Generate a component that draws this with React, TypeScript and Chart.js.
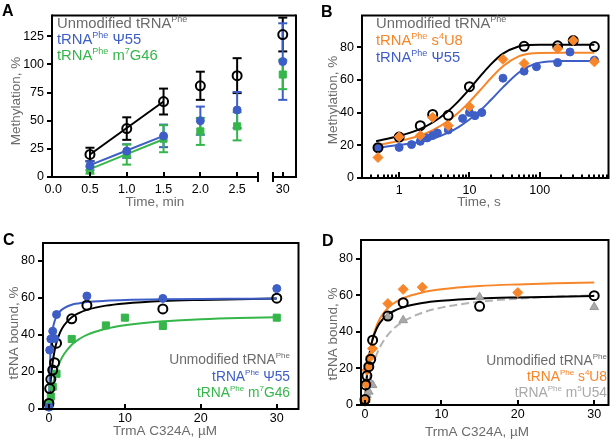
import React, { useEffect, useRef } from "react";
import { Chart, registerables } from "chart.js";

Chart.register(...registerables);

const FONT = '"Liberation Sans", Arial, Helvetica, sans-serif';
const C_BLACK = "#000000";
const C_BLUE = "#3d5ec6";
const C_GREEN = "#35b64b";
const C_ORANGE = "#f7862a";
const C_LGRAY = "#a9a9a9";
const C_TEXT = "#6b6b6b";

// ---------------- Panel A data ----------------
const timeA = [0.5, 1.0, 1.5, 2.0, 2.5, 30];
const unmodA = [20, 43, 67, 81, 90, 126.5];
const unmodAErr = [6, 10, 11.5, 12.5, 15.5, 15];
const psiA = [10, 23, 36.5, 50, 59.5, 102.5];
const psiAErr = [4, 6, 10, 12.5, 16, 34];
const m7gA = [6, 20, 34, 40.5, 45, 91];
const m7gAErr = [3, 9, 12, 12, 12.5, 13];
const fitTimeA = [0.5, 1.5];
const unmodFitA = [20, 67];
const psiFitA = [10.5, 36.5];
const m7gFitA = [7, 33.5];
const xTicksA = [0, 0.5, 1, 1.5, 2, 2.5, 30];
const xTickLabelsA = ["0.0", "0.5", "1.0", "1.5", "2.0", "2.5", "30"];
const yTicksA = [0, 25, 50, 75, 100, 125];

// ---------------- Panel B data ----------------
const timeUnmodB = [0.5, 1, 2, 3, 5, 10, 60, 180, 300, 600];
const unmodB = [18.5, 25, 32, 38.8, 38.3, 55.8, 80.5, 80.8, 84, 80.3];
const timeS4B = [0.5, 1, 2, 3, 5, 10, 30, 60, 180, 300, 600];
const s4B = [12.5, 25.2, 26, 37, 32, 43.6, 72.5, 70, 79, 84, 71];
const timePsiB = [0.5, 1, 1.5, 2, 2.5, 3, 3.5, 5, 8, 10, 12, 15, 30, 60, 90, 180, 270, 600];
const psiB = [18, 18.7, 20.4, 22.4, 24.5, 26, 27.5, 29.3, 36.4, 40, 38.1, 40, 61, 65.3, 68, 70.5, 77, 72];
const fitTimeB = [0.47, 1, 2, 3, 5, 7, 10, 15, 20, 30, 50, 70, 100, 200, 600];
const unmodFitB = [22.5, 25.7, 30.0, 33.9, 41.0, 47.0, 54.3, 63.3, 69.3, 76.0, 80.4, 81.3, 81.5, 81.5, 81.5];
const s4FitB = [20.0, 22.6, 26.0, 29.2, 35.0, 40.0, 46.5, 54.8, 60.8, 68.3, 74.3, 75.9, 76.4, 76.5, 76.5];
const psiFitB = [18.5, 20.1, 22.1, 24.0, 27.7, 31.1, 35.7, 42.1, 47.5, 55.4, 64.3, 68.2, 70.5, 71.5, 71.5];
const xTicksB = [1, 10, 100];
const xMinorB = [0.3, 0.4, 0.5, 0.6, 0.7, 0.8, 0.9, 2, 3, 4, 5, 6, 7, 8, 9, 20, 30, 40, 50, 60, 70, 80, 90, 200, 300, 400, 500, 600, 700, 800, 900];
const yTicksB = [0, 20, 40, 60, 80];

// ---------------- Panels C / D data ----------------
const concUnmod = [0, 0.1, 0.25, 0.5, 0.75, 1, 3, 5, 15, 30];
const unmodBound = [3, 11, 16, 21, 25, 35.5, 48.7, 56, 54, 59.8];
const concPsiC = [0, 0.1, 0.25, 0.5, 0.75, 1, 5, 15, 30];
const psiBound = [1, 31.8, 37.8, 42, 38, 51, 61, 59.7, 65];
const concM7C = [0, 0.1, 0.25, 0.5, 1, 3, 7.5, 10, 15, 30];
const m7Bound = [1.3, 3, 6.7, 12, 19, 37.8, 45.1, 49.3, 44.8, 49.3];
const concS4D = [0, 0.1, 0.25, 0.5, 0.75, 1, 3, 5, 7.5, 20];
const s4Bound = [2, 11.8, 19, 21.8, 26.4, 30.9, 55.5, 63.3, 64.5, 61.5];
const concM5D = [0, 0.1, 0.25, 0.5, 0.75, 1, 3, 5, 15, 30];
const m5Bound = [1.3, 2.7, 5.5, 7.3, 11.8, 10.9, 48.2, 46.4, 59, 53.6];

const fitConc = [0, 0.1, 0.25, 0.5, 0.75, 1, 1.5, 2, 3, 4, 5, 7.5, 10, 15, 20, 25, 30];
const unmodFitCD = [0, 7.6, 16.1, 25.4, 31.6, 35.9, 41.6, 45.2, 49.5, 51.9, 53.5, 55.8, 57.0, 58.3, 58.9, 59.3, 59.6];
const psiFitC = [0, 20, 33.3, 42.9, 47.4, 50, 52.9, 54.5, 56.3, 57.1, 57.7, 58.4, 58.8, 59.2, 59.4, 59.5, 59.6];
const m7FitC = [0, 3.3, 7.4, 13, 17.3, 20.8, 26, 29.7, 34.7, 37.8, 40, 43.3, 45.2, 47.3, 48.4, 49.1, 49.5];
const s4FitD = [0, 6.9, 15, 24.6, 31.4, 36.3, 43.1, 47.6, 53.1, 56.3, 58.5, 61.6, 63.3, 65.1, 66, 66.6, 67];
const m5FitD = [0, 3, 7.1, 12.8, 17.5, 21.3, 27.4, 32, 38.4, 42.7, 45.7, 50.5, 53.3, 56.5, 58.2, 59.3, 60];
const xTicksCD = [0, 10, 20, 30];
const yTicksCD = [0, 20, 40, 60, 80];

// ---------------- helpers ----------------
type Seg = { t: string; sup?: boolean };
const LEG_UNMOD: Seg[] = [{ t: "Unmodified tRNA" }, { t: "Phe", sup: true }];
const LEG_PSI: Seg[] = [{ t: "tRNA" }, { t: "Phe", sup: true }, { t: " Ψ55" }];
const LEG_M7: Seg[] = [{ t: "tRNA" }, { t: "Phe", sup: true }, { t: " m" }, { t: "7", sup: true }, { t: "G46" }];
const LEG_S4: Seg[] = [{ t: "tRNA" }, { t: "Phe", sup: true }, { t: " s" }, { t: "4", sup: true }, { t: "U8" }];
const LEG_M5: Seg[] = [{ t: "tRNA" }, { t: "Phe", sup: true }, { t: " m" }, { t: "5", sup: true }, { t: "U54" }];

const TXT = 13.5;

function rich(ctx: CanvasRenderingContext2D, segs: Seg[], x: number, y: number, color: string, align: "left" | "right", size: number) {
  const base = `${size}px ${FONT}`;
  const sup = `${Math.round(size * 0.6)}px ${FONT}`;
  let w = 0;
  for (const s of segs) {
    ctx.font = s.sup ? sup : base;
    w += ctx.measureText(s.t).width;
  }
  let cx = align === "right" ? x - w : x;
  ctx.fillStyle = color;
  ctx.textAlign = "left";
  ctx.textBaseline = "alphabetic";
  for (const s of segs) {
    ctx.font = s.sup ? sup : base;
    ctx.fillText(s.t, cx, s.sup ? y - size * 0.4 : y);
    cx += ctx.measureText(s.t).width;
  }
}

function letter(ctx: CanvasRenderingContext2D, s: string, x: number, y: number) {
  ctx.font = `bold 16px ${FONT}`;
  ctx.fillStyle = "#000";
  ctx.textAlign = "left";
  ctx.textBaseline = "alphabetic";
  ctx.fillText(s, x, y);
}

function xTitle(ctx: CanvasRenderingContext2D, s: string, x: number, y: number) {
  ctx.font = `${TXT}px ${FONT}`;
  ctx.fillStyle = C_TEXT;
  ctx.textAlign = "center";
  ctx.textBaseline = "alphabetic";
  ctx.fillText(s, x, y);
}

function yTitle(ctx: CanvasRenderingContext2D, s: string, x: number, y: number) {
  ctx.save();
  ctx.translate(x, y);
  ctx.rotate(-Math.PI / 2);
  ctx.font = `${TXT}px ${FONT}`;
  ctx.fillStyle = C_TEXT;
  ctx.textAlign = "center";
  ctx.textBaseline = "alphabetic";
  ctx.fillText(s, 0, 0);
  ctx.restore();
}

function seg(ctx: CanvasRenderingContext2D, x1: number, y1: number, x2: number, y2: number) {
  ctx.beginPath();
  ctx.moveTo(x1, y1);
  ctx.lineTo(x2, y2);
  ctx.stroke();
}

function drawBox(chart: any) {
  const { ctx, chartArea: a } = chart;
  ctx.save();
  ctx.strokeStyle = "#000";
  ctx.lineWidth = 2;
  ctx.strokeRect(a.left, a.top, a.right - a.left, a.bottom - a.top);
  ctx.restore();
}

function drawYTicks(chart: any, ticks: number[], len = 5) {
  const { ctx, chartArea: a, scales } = chart;
  ctx.save();
  ctx.strokeStyle = "#000";
  ctx.lineWidth = 2;
  for (const t of ticks) {
    const py = Math.round(scales.y.getPixelForValue(t));
    seg(ctx, a.left - len, py, a.left, py);
  }
  ctx.restore();
}

function drawXTicksIn(chart: any, ticks: number[], len: number, map = (v: number) => v) {
  const { ctx, chartArea: a, scales } = chart;
  ctx.save();
  ctx.strokeStyle = "#000";
  ctx.lineWidth = 2;
  for (const t of ticks) {
    const px = Math.round(scales.x.getPixelForValue(map(t)));
    seg(ctx, px, a.bottom, px, a.bottom - len);
  }
  ctx.restore();
}

function drawErrorBars(chart: any) {
  const { ctx, scales } = chart;
  chart.data.datasets.forEach((ds: any, i: number) => {
    if (!ds.errors) return;
    const meta = chart.getDatasetMeta(i);
    ctx.save();
    ctx.strokeStyle = ds.borderColor;
    ctx.lineWidth = 2;
    meta.data.forEach((el: any, j: number) => {
      const v = ds.data[j].y;
      const e = ds.errors[j];
      const x = el.x;
      const y1 = scales.y.getPixelForValue(v + e);
      const y2 = scales.y.getPixelForValue(v - e);
      seg(ctx, x, y1, x, y2);
      seg(ctx, x - 4.5, y1, x + 4.5, y1);
      seg(ctx, x - 4.5, y2, x + 4.5, y2);
    });
    ctx.restore();
  });
}

const pts = (xs: number[], ys: number[], f = (v: number) => v) => xs.map((x, i) => ({ x: f(x), y: ys[i] }));

function scaleOpts(o: { type?: string; min: number; max: number; ticks: number[]; labels?: string[]; fit: number; axis: "x" | "y"; map?: (v: number) => number; pad?: number }) {
  const map = o.map || ((v: number) => v);
  return {
    type: o.type || "linear",
    min: o.min,
    max: o.max,
    bounds: "data",
    grid: { display: false, drawTicks: false },
    border: { display: false },
    afterBuildTicks: (s: any) => {
      s.ticks = o.ticks.map((v) => ({ value: map(v) }));
    },
    afterFit: (s: any) => {
      if (o.axis === "x") s.height = o.fit;
      else s.width = o.fit;
    },
    ticks: {
      autoSkip: false,
      maxRotation: 0,
      minRotation: 0,
      padding: o.pad !== undefined ? o.pad : o.axis === "x" ? 5 : 8,
      color: "#000",
      font: { family: FONT, size: 12.5 },
      callback: (_v: any, i: number) => (o.labels ? o.labels[i] : String(o.ticks[i])),
    },
  };
}

function baseOptions(pad: { top: number; right: number }, x: any, y: any) {
  return {
    animation: false,
    responsive: false,
    devicePixelRatio: 1,
    events: [],
    layout: { padding: { left: 0, top: pad.top, right: pad.right, bottom: 0 } },
    plugins: { legend: { display: false }, tooltip: { enabled: false } },
    scales: { x, y },
  };
}

function marker(color: string, style: string, radius: number, open = false, border?: string) {
  return {
    showLine: false,
    pointStyle: style,
    pointRadius: radius,
    pointBorderWidth: open ? 2 : 1,
    pointBackgroundColor: open ? "rgba(255,255,255,0)" : color,
    pointBorderColor: border || color,
    borderColor: border || color,
    backgroundColor: color,
    clip: false,
    order: 1,
  };
}

function curve(color: string, dash?: number[]) {
  return {
    showLine: true,
    pointRadius: 0,
    borderColor: color,
    backgroundColor: color,
    borderWidth: 2,
    borderDash: dash || [],
    cubicInterpolationMode: "monotone",
    fill: false,
    order: 5,
  };
}

// ---------------- Panel configs ----------------
const BREAK_POS = 3.12;
const axA = (t: number) => (t > 3 ? BREAK_POS : t);

function configA(): any {
  const decor = {
    id: "decorA",
    beforeDatasetsDraw(chart: any) {
      drawErrorBars(chart);
    },
    afterDraw(chart: any) {
      const { ctx, chartArea: a, scales } = chart;
      ctx.save();
      ctx.strokeStyle = "#000";
      ctx.lineWidth = 2;
      const b1 = Math.round(scales.x.getPixelForValue(2.78));
      const b2 = Math.round(scales.x.getPixelForValue(2.985));
      seg(ctx, a.left, a.top, a.right, a.top);
      seg(ctx, a.left, a.top - 1, a.left, a.bottom + 1);
      seg(ctx, a.right, a.top - 1, a.right, a.bottom + 1);
      seg(ctx, a.left, a.bottom, b1, a.bottom);
      seg(ctx, b2, a.bottom, a.right, a.bottom);
      seg(ctx, b1, a.bottom - 5, b1, a.bottom + 5);
      seg(ctx, b2, a.bottom - 5, b2, a.bottom + 5);
      ctx.restore();
      drawYTicks(chart, yTicksA);
      drawXTicksIn(chart, xTicksA.slice(1), 5, axA);
      letter(ctx, "A", 2, 16);
      rich(ctx, LEG_UNMOD, 57, 28, C_TEXT, "left", 14.8);
      rich(ctx, LEG_PSI, 57, 44, C_BLUE, "left", 14.8);
      rich(ctx, LEG_M7, 57, 60, C_GREEN, "left", 14.8);
      xTitle(ctx, "Time, min", 155, 206);
      yTitle(ctx, "Methylation, %", 20, 101);
    },
  };
  return {
    type: "scatter",
    data: {
      datasets: [
        { data: pts(timeA, unmodA, axA), errors: unmodAErr, ...marker(C_BLACK, "circle", 4.5, true) },
        { data: pts(timeA, psiA, axA), errors: psiAErr, ...marker(C_BLUE, "circle", 4) },
        { data: pts(timeA, m7gA, axA), errors: m7gAErr, ...marker(C_GREEN, "rect", 5) },
        { data: pts(fitTimeA, unmodFitA), ...curve(C_BLACK) },
        { data: pts(fitTimeA, psiFitA), ...curve(C_BLUE) },
        { data: pts(fitTimeA, m7gFitA), ...curve(C_GREEN) },
      ],
    },
    options: baseOptions(
      { top: 13, right: 9 },
      scaleOpts({ min: -0.016, max: 3.3, ticks: xTicksA, labels: xTickLabelsA, fit: 43, axis: "x", map: axA }),
      scaleOpts({ min: 0, max: 143.4, ticks: yTicksA, fit: 52, axis: "y" })
    ),
    plugins: [decor],
  };
}

function configB(): any {
  const decor = {
    id: "decorB",
    afterDraw(chart: any) {
      const { ctx } = chart;
      drawBox(chart);
      drawYTicks(chart, yTicksB);
      drawXTicksIn(chart, xTicksB, 6);
      drawXTicksIn(chart, xMinorB, 3.5);
      letter(ctx, "B", 16, 17);
      rich(ctx, LEG_UNMOD, 71, 28, C_TEXT, "left", 14.8);
      rich(ctx, LEG_S4, 71, 45, C_ORANGE, "left", 14.8);
      rich(ctx, LEG_PSI, 71, 62, C_BLUE, "left", 14.8);
      xTitle(ctx, "Time, s", 174, 206);
      yTitle(ctx, "Methylation, %", 32, 100);
    },
  };
  return {
    type: "scatter",
    data: {
      datasets: [
        { data: pts(timeS4B, s4B), ...marker(C_ORANGE, "rectRot", 5) },
        { data: pts(timeUnmodB, unmodB), ...marker(C_BLACK, "circle", 4.5, true) },
        { data: pts(timePsiB, psiB), ...marker(C_BLUE, "circle", 4) },
        { data: pts(fitTimeB, unmodFitB), ...curve(C_BLACK) },
        { data: pts(fitTimeB, s4FitB), ...curve(C_ORANGE) },
        { data: pts(fitTimeB, psiFitB), ...curve(C_BLUE) },
      ],
    },
    options: baseOptions(
      { top: 11, right: 4 },
      scaleOpts({ type: "logarithmic", min: 0.296, max: 953, ticks: xTicksB, fit: 42, axis: "x" }),
      scaleOpts({ min: 0, max: 99.3, ticks: yTicksB, fit: 57, axis: "y" })
    ),
    plugins: [decor],
  };
}

function configC(): any {
  const decor = {
    id: "decorC",
    afterDraw(chart: any) {
      const { ctx } = chart;
      drawBox(chart);
      drawYTicks(chart, yTicksCD);
      drawXTicksIn(chart, xTicksCD, 5);
      letter(ctx, "C", 3, 25);
      rich(ctx, LEG_UNMOD, 290, 144, C_TEXT, "right", 13.8);
      rich(ctx, LEG_PSI, 290, 161, C_BLUE, "right", 13.8);
      rich(ctx, LEG_M7, 290, 177, C_GREEN, "right", 13.8);
      xTitle(ctx, "TrmA C324A, µM", 165, 215);
      yTitle(ctx, "tRNA bound, %", 18, 113);
    },
  };
  return {
    type: "scatter",
    data: {
      datasets: [
        { data: pts(concPsiC, psiBound), ...marker(C_BLUE, "circle", 4) },
        { data: pts(concUnmod, unmodBound), ...marker(C_BLACK, "circle", 4.5, true) },
        { data: pts(concM7C, m7Bound), ...marker(C_GREEN, "rect", 5) },
        { data: pts(fitConc, psiFitC), ...curve(C_BLUE) },
        { data: pts(fitConc, unmodFitCD), ...curve(C_BLACK) },
        { data: pts(fitConc, m7FitC), ...curve(C_GREEN) },
      ],
    },
    options: baseOptions(
      { top: 23, right: 3 },
      scaleOpts({ min: -0.78, max: 32.86, ticks: xTicksCD, fit: 37, axis: "x", pad: 2 }),
      scaleOpts({ min: 0, max: 89.6, ticks: yTicksCD, fit: 43, axis: "y" })
    ),
    plugins: [decor],
  };
}

function configD(): any {
  const decor = {
    id: "decorD",
    afterDraw(chart: any) {
      const { ctx } = chart;
      drawBox(chart);
      drawYTicks(chart, yTicksCD);
      drawXTicksIn(chart, xTicksCD, 5);
      letter(ctx, "D", 17, 26);
      rich(ctx, LEG_UNMOD, 302, 145, C_TEXT, "right", 13.8);
      rich(ctx, LEG_S4, 302, 161, C_ORANGE, "right", 13.8);
      rich(ctx, LEG_M5, 302, 177, C_LGRAY, "right", 13.8);
      xTitle(ctx, "TrmA C324A, µM", 172, 216);
      yTitle(ctx, "tRNA bound, %", 32, 114);
    },
  };
  return {
    type: "scatter",
    data: {
      datasets: [
        { data: pts(concUnmod, unmodBound), ...marker(C_BLACK, "circle", 4.5, true) },
        { data: pts(concS4D, s4Bound), ...marker(C_ORANGE, "rectRot", 5) },
        { data: pts(concM5D, m5Bound), ...marker(C_LGRAY, "triangle", 5, false, "#999999") },
        { data: pts(fitConc, unmodFitCD), ...curve(C_BLACK) },
        { data: pts(fitConc, s4FitD), ...curve(C_ORANGE) },
        { data: pts(fitConc, m5FitD), ...curve("#b3b3b3", [8, 4]) },
      ],
    },
    options: baseOptions(
      { top: 20, right: 4 },
      scaleOpts({ min: -0.52, max: 31.87, ticks: xTicksCD, fit: 41, axis: "x", pad: 2 }),
      scaleOpts({ min: 0, max: 90.3, ticks: yTicksCD, fit: 56, axis: "y" })
    ),
    plugins: [decor],
  };
}

function Panel(props: { left: number; top: number; width: number; height: number; make: () => any }) {
  const ref = useRef<HTMLCanvasElement>(null);
  useEffect(() => {
    const chart = new Chart(ref.current as HTMLCanvasElement, props.make());
    return () => chart.destroy();
  }, []);
  return (
    <canvas
      ref={ref}
      width={props.width}
      height={props.height}
      style={{ position: "absolute", left: props.left, top: props.top, width: props.width, height: props.height }}
    />
  );
}

export default function App() {
  return (
    <div style={{ position: "fixed", left: 0, top: 0, width: 615, height: 446, background: "#ffffff", overflow: "hidden" }}>
      <Panel left={0} top={0} width={305} height={220} make={configA} />
      <Panel left={305} top={0} width={310} height={220} make={configB} />
      <Panel left={0} top={220} width={305} height={226} make={configC} />
      <Panel left={305} top={220} width={310} height={226} make={configD} />
    </div>
  );
}
